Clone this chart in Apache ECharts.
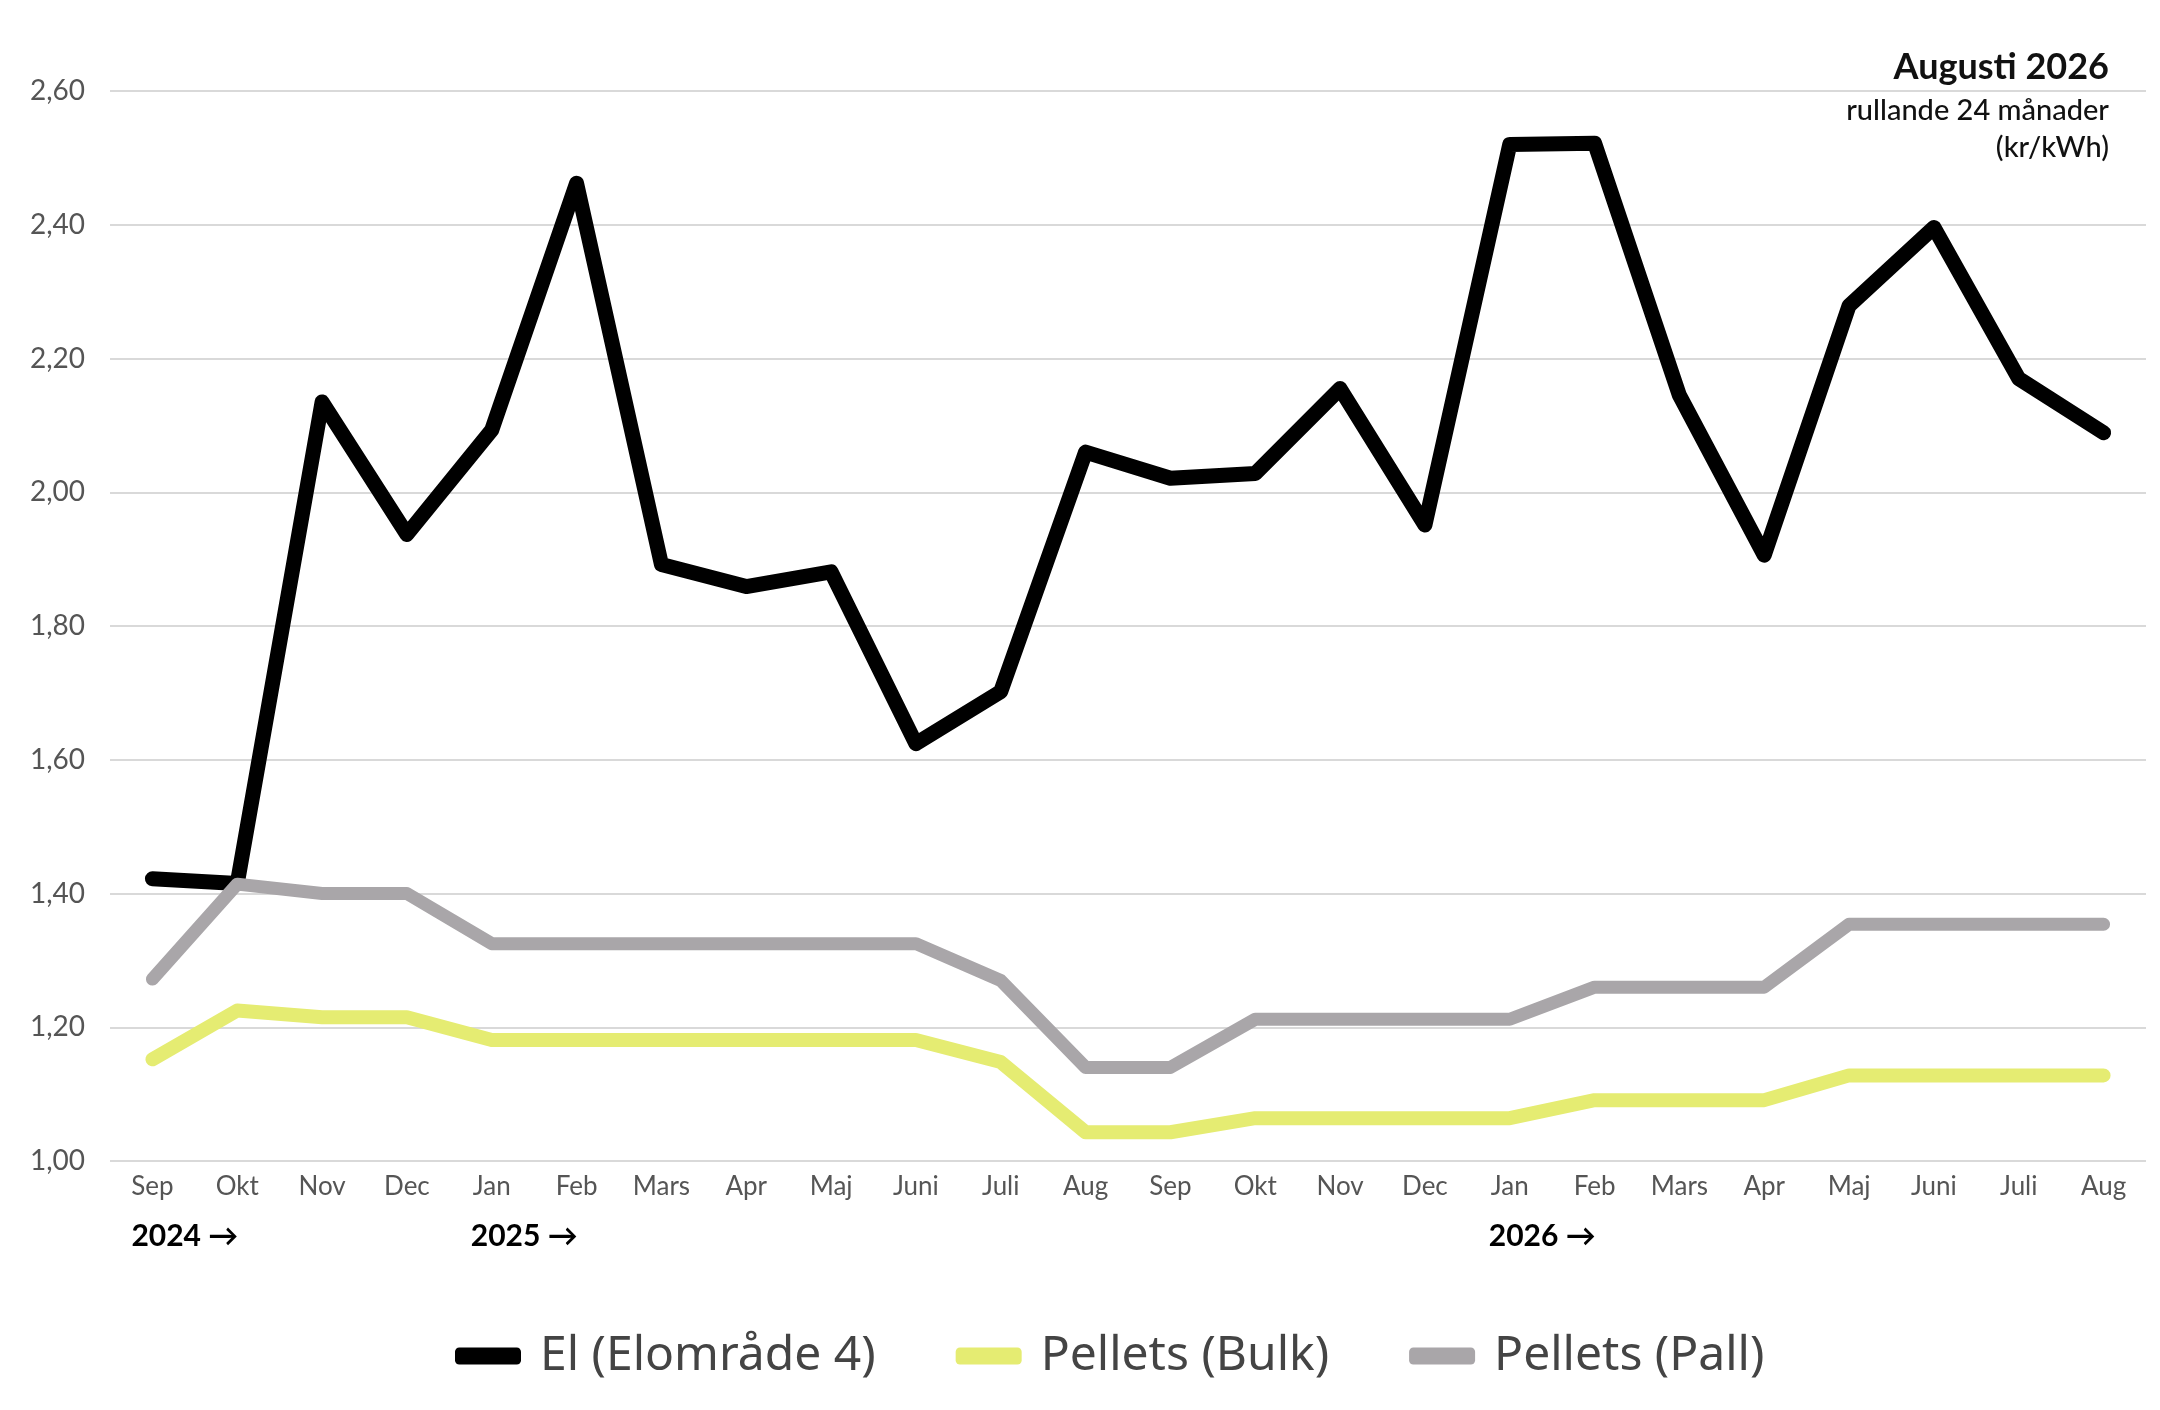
<!DOCTYPE html>
<html lang="sv">
<head>
    <meta charset="UTF-8">
    <title>El och pellets, rullande 24 månader</title>
    <style>
        html, body { margin: 0; padding: 0; background: #fff; }
        #main { width: 2160px; height: 1410px; }
    </style>
</head>
<body>
<div id="main"></div>
<script src="https://cdn.jsdelivr.net/npm/echarts@6/dist/echarts.min.js"></script>
<script>
    // månader, sep 2024 - aug 2026
    var months = ['Sep','Okt','Nov','Dec','Jan','Feb','Mars','Apr','Maj','Juni','Juli','Aug',
                  'Sep','Okt','Nov','Dec','Jan','Feb','Mars','Apr','Maj','Juni','Juli','Aug'];
    var yearLabels = ['2024 →', '2025 →', '2026 →'];
    var yearStart = [0, 4, 16];

    var el = [1.422, 1.415, 2.135, 1.937, 2.093, 2.462, 1.892, 1.859, 1.881, 1.624, 1.702, 2.060,
              2.021, 2.028, 2.155, 1.951, 2.520, 2.522, 2.145, 1.906, 2.279, 2.396, 2.170, 2.089];
    var bulk = [1.152, 1.225, 1.215, 1.215, 1.181, 1.181, 1.181, 1.181, 1.181, 1.181, 1.148, 1.043,
                1.043, 1.064, 1.064, 1.064, 1.064, 1.091, 1.091, 1.091, 1.128, 1.128, 1.128, 1.128];
    var pall = [1.272, 1.414, 1.400, 1.400, 1.325, 1.325, 1.325, 1.325, 1.325, 1.325, 1.270, 1.140,
                1.140, 1.212, 1.212, 1.212, 1.212, 1.260, 1.260, 1.260, 1.354, 1.354, 1.354, 1.354];

    var font = 'Lato, "Noto Sans", sans-serif';
    var chart = echarts.init(document.getElementById('main'));

    var option = {
        backgroundColor: '#fff',
        animation: false,
        textStyle: { fontFamily: font },
        grid: { left: 110, right: 14, top: 91, bottom: 249 },
        legend: {
            left: 450,
            top: 1327,
            icon: 'roundRect',
            itemWidth: 66,
            itemHeight: 17,
            itemGap: 80,
            textStyle: { fontFamily: '"Noto Sans", sans-serif', fontSize: 48, color: '#444', padding: [0, 0, 0, 14] },
            data: ['El (Elområde 4)', 'Pellets (Bulk)', 'Pellets (Pall)']
        },
        xAxis: {
            type: 'category',
            data: months,
            boundaryGap: true,
            axisLine: { show: false },
            axisTick: { show: false },
            axisLabel: { color: '#555', fontSize: 26, margin: 13, interval: 0 }
        },
        yAxis: {
            type: 'value',
            min: 1,
            max: 2.6,
            interval: 0.2,
            axisLine: { show: false },
            axisTick: { show: false },
            splitLine: { lineStyle: { color: '#d9d9d9', width: 2 } },
            axisLabel: {
                color: '#555',
                fontSize: 28,
                margin: 25,
                formatter: function (v) { return v.toFixed(2).replace('.', ','); }
            }
        },
        series: [
            {
                name: 'El (Elområde 4)', type: 'line', data: el,
                showSymbol: false, symbol: 'none',
                itemStyle: { color: '#000' },
                lineStyle: { color: '#000', width: 15, join: 'round', cap: 'round' }
            },
            {
                name: 'Pellets (Bulk)', type: 'line', data: bulk,
                showSymbol: false, symbol: 'none',
                itemStyle: { color: '#e5ec72' },
                lineStyle: { color: '#e5ec72', width: 14, join: 'round', cap: 'round' }
            },
            {
                name: 'Pellets (Pall)', type: 'line', data: pall,
                showSymbol: false, symbol: 'none',
                itemStyle: { color: '#a9a6a9' },
                lineStyle: { color: '#a9a6a9', width: 13, join: 'round', cap: 'round' }
            }
        ]
    };
    chart.setOption(option);

    // rubrik uppe till höger
    var texts = [
        { type: 'text', x: 2109, y: 67, style: { text: 'Augusti 2026', fontFamily: font, fontSize: 36, fontWeight: 'bold', fill: '#111', textAlign: 'right', textVerticalAlign: 'middle' } },
        { type: 'text', x: 2109, y: 111, style: { text: 'rullande 24 månader', fontFamily: font, fontSize: 29, fontWeight: 500, fill: '#111', textAlign: 'right', textVerticalAlign: 'middle' } },
        { type: 'text', x: 2109, y: 148, style: { text: '(kr/kWh)', fontFamily: font, fontSize: 29, fontWeight: 500, fill: '#111', textAlign: 'right', textVerticalAlign: 'middle' } }
    ];

    // årtal under månaderna, placerade med axelns skala
    for (var i = 0; i < yearLabels.length; i++) {
        var px = chart.convertToPixel({ xAxisIndex: 0 }, yearStart[i]);
        texts.push({
            type: 'text',
            x: px - 21,
            y: 1236,
            style: {
                text: yearLabels[i],
                fontFamily: font,
                fontSize: 30,
                fontWeight: 'bold',
                fill: '#000',
                textAlign: 'left',
                textVerticalAlign: 'middle'
            }
        });
    }
    chart.setOption({ graphic: texts });
</script>
</body>
</html>
